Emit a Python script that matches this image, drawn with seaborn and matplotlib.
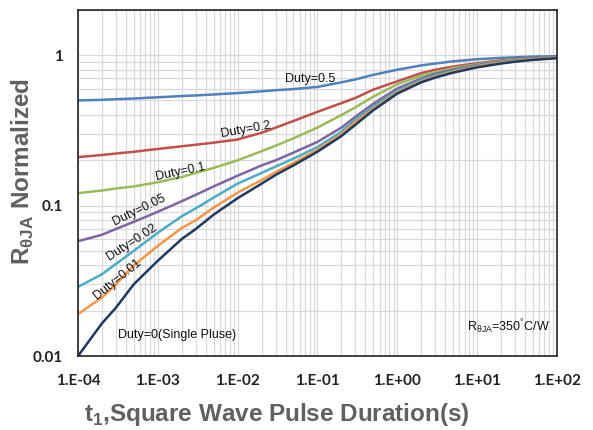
import matplotlib
matplotlib.use("Agg")
import matplotlib.pyplot as plt
import matplotlib.ticker as mticker
import numpy as np
import pandas as pd
import seaborn as sns

# pulse duration (s)
pulse = [1e-4, 2e-4, 3e-4, 5e-4, 1e-3, 2e-3, 3e-3, 5e-3, 1e-2, 2e-2, 3e-2, 5e-2,
         1e-1, 2e-1, 3e-1, 5e-1, 1, 2, 3, 5, 10, 20, 30, 50, 100]

# normalized R_thetaJA
duty_05 = [0.50, 0.505, 0.51, 0.515, 0.525, 0.535, 0.54, 0.548, 0.56, 0.575, 0.585, 0.595,
           0.615, 0.66, 0.69, 0.74, 0.80, 0.855, 0.88, 0.91, 0.94, 0.96, 0.968, 0.978, 0.985]
duty_02 = [0.210, 0.217, 0.222, 0.228, 0.238, 0.248, 0.254, 0.262, 0.275, 0.305, 0.33, 0.365,
           0.42, 0.48, 0.52, 0.59, 0.67, 0.76, 0.80, 0.84, 0.885, 0.925, 0.94, 0.955, 0.975]
duty_01 = [0.121, 0.126, 0.130, 0.134, 0.143, 0.155, 0.165, 0.178, 0.20, 0.23, 0.25, 0.28,
           0.33, 0.40, 0.45, 0.53, 0.64, 0.73, 0.77, 0.82, 0.87, 0.915, 0.93, 0.95, 0.97]
duty_005 = [0.058, 0.064, 0.070, 0.078, 0.091, 0.107, 0.118, 0.134, 0.158, 0.185, 0.20, 0.225,
            0.265, 0.33, 0.39, 0.475, 0.60, 0.70, 0.75, 0.80, 0.86, 0.905, 0.92, 0.945, 0.965]
duty_002 = [0.0288, 0.035, 0.041, 0.050, 0.066, 0.085, 0.096, 0.113, 0.14, 0.165, 0.182, 0.205,
            0.245, 0.31, 0.375, 0.455, 0.58, 0.685, 0.735, 0.785, 0.85, 0.895, 0.915, 0.94, 0.962]
duty_001 = [0.0190, 0.0245, 0.030, 0.040, 0.054, 0.071, 0.080, 0.097, 0.122, 0.148, 0.167, 0.192,
            0.235, 0.298, 0.36, 0.44, 0.565, 0.67, 0.72, 0.775, 0.84, 0.89, 0.91, 0.935, 0.96]
duty_0 = [0.0100, 0.0165, 0.021, 0.030, 0.043, 0.060, 0.070, 0.087, 0.112, 0.14, 0.16, 0.185,
          0.228, 0.29, 0.345, 0.43, 0.555, 0.66, 0.71, 0.765, 0.83, 0.88, 0.905, 0.93, 0.955]

series = {"0.5": duty_05, "0.2": duty_02, "0.1": duty_01, "0.05": duty_005,
          "0.02": duty_002, "0.01": duty_001, "0": duty_0}
colors = {"0.5": "#4f81bd", "0.2": "#c0504d", "0.1": "#9bbb59", "0.05": "#8064a2",
          "0.02": "#4bacc6", "0.01": "#f79646", "0": "#1f3a60"}

# curve labels: text, x, y, rotation
labels = [("Duty=0.5", 0.081, 0.69, 0),
          ("Duty=0.2", 0.0127, 0.32, 10),
          ("Duty=0.1", 1.9e-3, 0.168, 12),
          ("Duty=0.05", 5.8e-4, 0.094, 26),
          ("Duty=0.02", 4.75e-4, 0.057, 33),
          ("Duty=0.01", 3.1e-4, 0.0325, 39),
          ("Duty=0(Single Pluse)", 1.74e-3, 0.0138, 0)]

rows = []
for duty, vals in series.items():
    for t, r in zip(pulse, vals):
        rows.append({"t": t, "R": r, "Duty": duty})
df = pd.DataFrame(rows)

sns.set_style("white")
plt.rcParams['font.family'] = ['Liberation Sans', 'DejaVu Sans']
plt.rcParams['mathtext.fontset'] = 'custom'
plt.rcParams['mathtext.rm'] = 'Liberation Sans'
plt.rcParams['mathtext.bf'] = 'Liberation Sans:bold'

fig = plt.figure(figsize=(5.93, 4.30), dpi=100)
ax = fig.add_axes([0.1315, 0.172, 0.8075, 0.805])

sns.lineplot(data=df, x="t", y="R", hue="Duty", palette=colors,
             hue_order=list(series.keys()), linewidth=1.8, legend=False,
             ax=ax, sort=True)

ax.set_xscale("log")
ax.set_yscale("log")
ax.set_xlim(1e-4, 100)
ax.set_ylim(0.01, 2)

ax.xaxis.set_major_locator(mticker.FixedLocator([1e-4, 1e-3, 1e-2, 1e-1, 1, 10, 100]))
ax.xaxis.set_minor_locator(mticker.LogLocator(base=10, subs=np.arange(2, 10), numticks=20))
ax.yaxis.set_major_locator(mticker.FixedLocator([0.01, 0.1, 1]))
ax.yaxis.set_minor_locator(mticker.LogLocator(base=10, subs=np.arange(2, 10), numticks=20))
ax.xaxis.set_major_formatter(mticker.FuncFormatter(
    lambda v, p: f"1.E{int(round(np.log10(v))):+03d}"))
ax.yaxis.set_major_formatter(mticker.FuncFormatter(
    lambda v, p: {0.01: "0.01", 0.1: "0.1", 1: "1"}.get(round(v, 3), "")))
ax.xaxis.set_minor_formatter(mticker.NullFormatter())
ax.yaxis.set_minor_formatter(mticker.NullFormatter())

ax.grid(True, which="both", color="#d9d9d9", linewidth=0.9)
ax.set_axisbelow(True)
ax.tick_params(which="major", direction="in", length=5, width=1, color="#222222",
               labelsize=11, labelcolor="#222222")
ax.tick_params(which="minor", direction="in", length=3, width=0.8, color="#222222")
ax.tick_params(axis="x", which="major", pad=13)
ax.tick_params(axis="y", which="major", pad=11)
for lab in ax.get_xticklabels() + ax.get_yticklabels():
    lab.set_fontfamily("Lato")
    lab.set_fontweight("bold")
for sp in ax.spines.values():
    sp.set_color("#222222")
    sp.set_linewidth(1.2)

ax.set_xlabel(r"t$_{\mathbf{1}}$,Square Wave Pulse Duration(s)", fontsize=17.5,
              fontweight="bold", color="#606060")
ax.xaxis.set_label_coords(0.415, -0.13)
ax.set_ylabel(r"R$_{\mathbf{θJA}}$ Normalized", fontsize=17.5,
              fontweight="bold", color="#606060")
ax.yaxis.set_label_coords(-0.088, 0.532)

for text, x, y, rot in labels:
    ax.text(x, y, text, fontsize=9, rotation=rot, ha="center", va="center",
            rotation_mode="anchor", color="#111111")
ax.text(0.985, 0.085, r"R$_{\mathrm{θJA}}$=350$^{\mathrm{°}}$C/W", transform=ax.transAxes,
        fontsize=9, ha="right", va="center", color="#111111")

fig.savefig("out.png", dpi=100)
